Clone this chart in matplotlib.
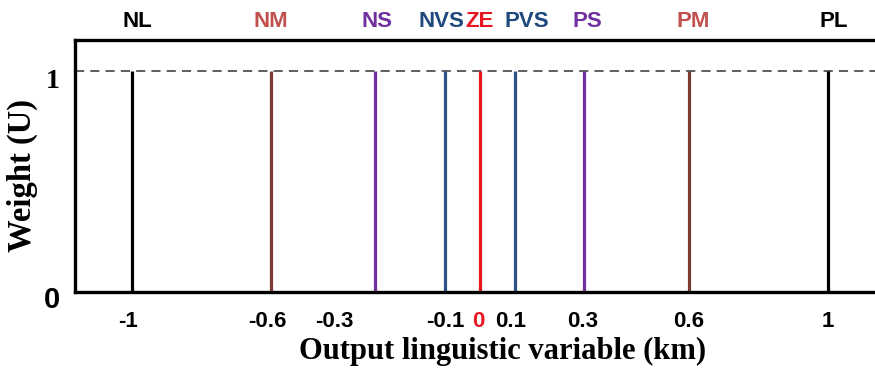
import matplotlib
matplotlib.use("Agg")
import matplotlib.pyplot as plt
import matplotlib.transforms as mtransforms

# Singleton output membership functions
terms = ["NL", "NM", "NS", "NVS", "ZE", "PVS", "PS", "PM", "PL"]
centers = [-1.0, -0.6, -0.3, -0.1, 0.0, 0.1, 0.3, 0.6, 1.0]
weights = [1, 1, 1, 1, 1, 1, 1, 1, 1]
line_colors = ["#000000", "#7a3b30", "#7030a0", "#2a5288", "#e8171f",
               "#2a5288", "#7030a0", "#7a3b30", "#000000"]
label_colors = ["#000000", "#c0504d", "#7030a0", "#1f497d", "#e8171f",
                "#1f497d", "#7030a0", "#c0504d", "#000000"]
tick_values = [-1, -0.6, -0.3, -0.1, 0, 0.1, 0.3, 0.6, 1]
tick_labels = ["-1", "-0.6", "-0.3", "-0.1", "0", "0.1", "0.3", "0.6", "1"]

fig = plt.figure(figsize=(8.75, 3.76), dpi=100)
ax = fig.add_axes([0.0857, 0.2234, 0.9143, 0.6702])

ax.set_xlim(-1.163, 1.135)
ax.set_ylim(0, 1.14)

sans = ["Liberation Sans", "DejaVu Sans"]
serif = ["Liberation Serif", "DejaVu Serif"]


def shift(artist, dx_px=0, dy_px=0):
    artist.set_transform(artist.get_transform() +
                         mtransforms.ScaledTranslation(dx_px / 100, dy_px / 100,
                                                       fig.dpi_scale_trans))


ax.axhline(1.0, color="#333333", lw=1.1, ls=(0, (6, 4)), zorder=1)

for c, w, lc in zip(centers, weights, line_colors):
    ax.vlines(c, 0, w, color=lc, lw=2.3, zorder=2)

# Term names above the frame
label_shift = {"NL": 6, "NVS": -4, "PVS": 12, "NS": 2, "PS": 3, "PM": 4, "PL": 6}
for name, c, col in zip(terms, centers, label_colors):
    t = ax.text(c, 1.225, name, ha="center", va="center",
                fontsize=16, fontweight="bold", color=col, family=sans, clip_on=False)
    shift(t, label_shift.get(name, 0), 0)

ax.set_xticks(tick_values)
ax.set_xticklabels(tick_labels)
ax.tick_params(axis="x", length=0, pad=14)
x_label_shift = {-1: -4, -0.6: -4, -0.3: -41, 0: -2, 0.1: -4, 0.3: -2}
for lbl, v in zip(ax.get_xticklabels(), tick_values):
    lbl.set_fontfamily(sans)
    lbl.set_fontweight("bold")
    lbl.set_fontsize(16)
    if v == 0:
        lbl.set_color("#e8171f")
    if v in x_label_shift:
        shift(lbl, x_label_shift[v], 0)

ax.set_yticks([0, 1])
ax.set_yticklabels(["0", "1"])
ax.tick_params(axis="y", length=0, pad=11)
yl = ax.get_yticklabels()
yl[0].set_fontfamily(sans)
yl[0].set_fontweight("bold")
yl[0].set_fontsize(21)
shift(yl[0], 0, -5)
yl[1].set_fontfamily(serif)
yl[1].set_fontweight("bold")
yl[1].set_fontsize(20)
shift(yl[1], 0, -8)

for side in ["left", "top", "bottom"]:
    ax.spines[side].set_linewidth(2.4)
ax.spines["right"].set_visible(False)

ax.set_xlabel("Output linguistic variable (km)", fontsize=22, fontweight="bold",
              family=serif)
ax.xaxis.set_label_coords(0.534, -0.18)
ax.set_ylabel("Weight (U)", fontsize=23.5, fontweight="bold", family=serif)
ax.yaxis.set_label_coords(-0.046, 0.464)

fig.savefig("out.png", dpi=100)
